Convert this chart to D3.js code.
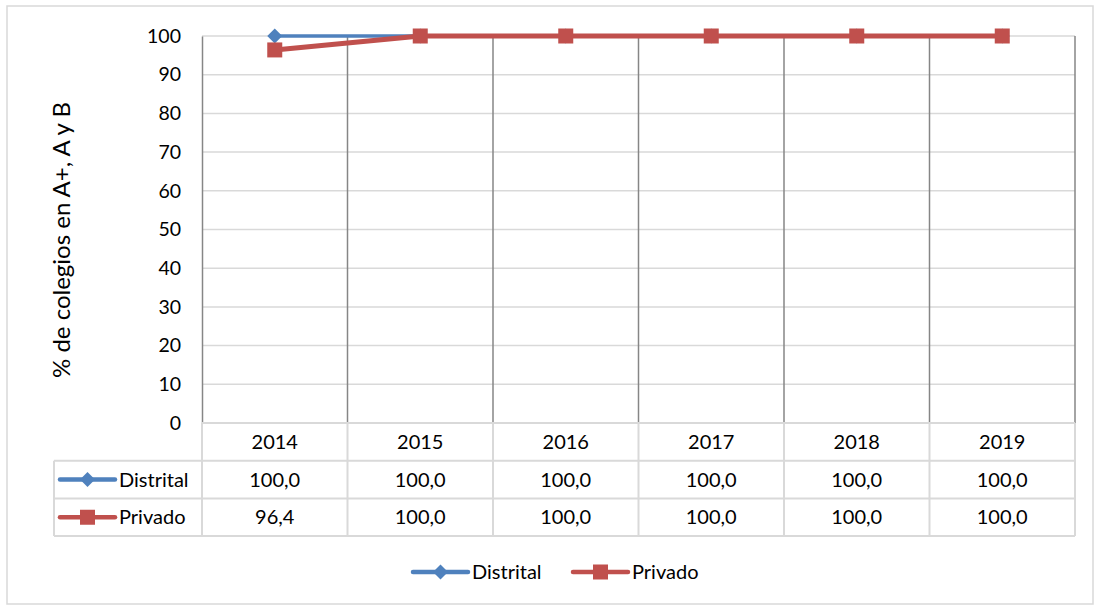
<!DOCTYPE html>
<html>
<head>
<meta charset="utf-8">
<script src="https://cdn.jsdelivr.net/npm/d3@7"></script>
<style>
  body { margin: 0; background: #fff; }
  text { font-family: Lato, "Open Sans", sans-serif; fill: #000; }
</style>
</head>
<body>
<svg id="chart" width="1094" height="605"></svg>
<script>
var years = ["2014", "2015", "2016", "2017", "2018", "2019"];
var distrital = [100, 100, 100, 100, 100, 100];
var privado = [96.4, 100, 100, 100, 100, 100];
var yTicks = [0, 10, 20, 30, 40, 50, 60, 70, 80, 90, 100];

var series = [
  { name: "Distrital", values: distrital, color: "#4F81BD", shape: "diamond", width: 3.5 },
  { name: "Privado", values: privado, color: "#C0504D", shape: "square", width: 5 }
];

var svg = d3.select("#chart");
var plotLeft = 202, plotRight = 1075, plotTop = 36, plotBottom = 423;
var rowH = 37.7, tableLeft = 54;

// outer frame
svg.append("rect").attr("x", 7).attr("y", 6).attr("width", 1086).attr("height", 598)
  .attr("fill", "none").attr("stroke", "#d9d9d9").attr("stroke-width", 1.5);

var x = d3.scaleBand().domain(years).range([plotLeft, plotRight]);
var y = d3.scaleLinear().domain([0, 100]).range([plotBottom, plotTop]);

// gridlines
svg.append("g").selectAll("line").data(yTicks.filter(function(d) { return d > 0; })).enter()
  .append("line")
  .attr("x1", plotLeft).attr("x2", plotRight)
  .attr("y1", function(d) { return y(d); }).attr("y2", function(d) { return y(d); })
  .attr("stroke", "#d9d9d9").attr("stroke-width", 1.5);

// vertical category separators
svg.append("g").selectAll("line").data(years).enter()
  .append("line")
  .attr("x1", function(d) { return x(d) + x.bandwidth(); })
  .attr("x2", function(d) { return x(d) + x.bandwidth(); })
  .attr("y1", plotTop).attr("y2", plotBottom)
  .attr("stroke", "#868686").attr("stroke-width", 1.5);

// y axis
var yAxis = svg.append("g").attr("transform", "translate(" + plotLeft + ",0)")
  .call(d3.axisLeft(y).tickValues(yTicks).tickSize(0).tickPadding(21));
yAxis.select(".domain").attr("stroke", "#868686").attr("stroke-width", 1.5);
yAxis.selectAll("text").style("font-size", "19.5px").attr("font-family", null);

svg.append("text")
  .attr("transform", "translate(70," + 240 + ") rotate(-90)")
  .attr("text-anchor", "middle")
  .style("font-size", "24px")
  .text("% de colegios en A+, A y B");

// data table
var table = svg.append("g");
var gridColor = "#d9d9d9";
table.selectAll("text.year").data(years).enter().append("text")
  .attr("class", "year")
  .attr("x", function(d) { return x(d) + x.bandwidth() / 2; })
  .attr("y", plotBottom + rowH / 2 + 7)
  .attr("text-anchor", "middle").style("font-size", "20px")
  .text(function(d) { return d; });

var fmt = function(v) { return v.toFixed(1).replace(".", ","); };
series.forEach(function(s, i) {
  var rowY = plotBottom + rowH * (i + 1);
  table.selectAll("text.v" + i).data(s.values).enter().append("text")
    .attr("x", function(d, j) { return x(years[j]) + x.bandwidth() / 2; })
    .attr("y", rowY + rowH / 2 + 7)
    .attr("text-anchor", "middle").style("font-size", "20px")
    .text(fmt);
});

// horizontal table lines
[0, 1, 2, 3].forEach(function(k) {
  table.append("line")
    .attr("x1", k === 0 ? plotLeft : tableLeft).attr("x2", plotRight)
    .attr("y1", plotBottom + rowH * k).attr("y2", plotBottom + rowH * k)
    .attr("stroke", gridColor).attr("stroke-width", 2);
});
// vertical table lines
var vx = [plotLeft].concat(years.map(function(d) { return x(d) + x.bandwidth(); }));
vx.forEach(function(v) {
  table.append("line").attr("x1", v).attr("x2", v)
    .attr("y1", plotBottom).attr("y2", plotBottom + rowH * 3)
    .attr("stroke", gridColor).attr("stroke-width", 2);
});
table.append("line").attr("x1", tableLeft).attr("x2", tableLeft)
  .attr("y1", plotBottom + rowH).attr("y2", plotBottom + rowH * 3)
  .attr("stroke", gridColor).attr("stroke-width", 2);

function marker(g, s, cx, cy) {
  if (s.shape === "diamond") {
    g.append("path")
      .attr("d", "M" + cx + "," + (cy - 7.5) + "L" + (cx + 7.5) + "," + cy + "L" + cx + "," + (cy + 7.5) + "L" + (cx - 7.5) + "," + cy + "Z")
      .attr("fill", s.color);
  } else {
    g.append("rect").attr("x", cx - 7.5).attr("y", cy - 7.5).attr("width", 15).attr("height", 15)
      .attr("fill", s.color);
  }
}

function legendKey(g, s, x0, cy) {
  g.append("line").attr("x1", x0).attr("x2", x0 + 55).attr("y1", cy).attr("y2", cy)
    .attr("stroke", s.color).attr("stroke-width", 4.5).attr("stroke-linecap", "round");
  marker(g, s, x0 + 27.5, cy);
  g.append("text").attr("x", x0 + 59).attr("y", cy + 7).style("font-size", "20px").text(s.name);
}

// table row keys
series.forEach(function(s, i) {
  legendKey(table, s, 60, plotBottom + rowH * (i + 1) + rowH / 2);
});

// lines
var line = d3.line()
  .x(function(d, i) { return x(years[i]) + x.bandwidth() / 2; })
  .y(function(d) { return y(d); });

series.forEach(function(s) {
  var g = svg.append("g");
  g.append("path").datum(s.values)
    .attr("fill", "none").attr("stroke", s.color).attr("stroke-width", s.width)
    .attr("stroke-linejoin", "round")
    .attr("d", line);
  s.values.forEach(function(v, i) {
    marker(g, s, x(years[i]) + x.bandwidth() / 2, y(v));
  });
});

// bottom legend
var legend = svg.append("g");
legendKey(legend, series[0], 413, 572);
legendKey(legend, series[1], 573, 572);
</script>
</body>
</html>
